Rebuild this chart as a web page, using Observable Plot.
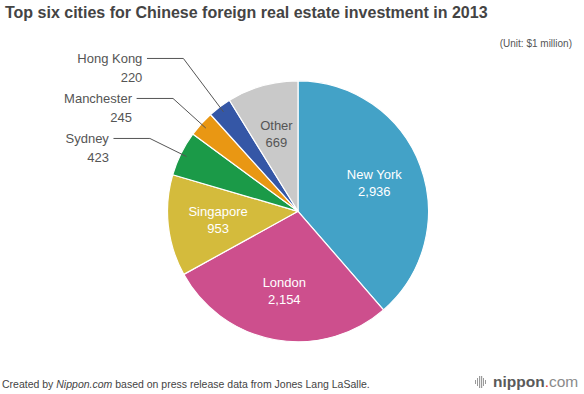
<!DOCTYPE html>
<html><head><meta charset="utf-8">
<script src="https://cdn.jsdelivr.net/npm/d3@7"></script>
<script src="https://cdn.jsdelivr.net/npm/@observablehq/plot@0.6"></script>
<style>
body{margin:0;background:#fff;font-family:"Liberation Sans",Arial,Helvetica,sans-serif;}
#wrap{width:584px;height:394px;position:relative;overflow:hidden}
#head{height:52px;position:relative}
#title{position:absolute;left:5px;top:4px;font-size:16px;font-weight:bold;color:#444;white-space:nowrap}
#unit{position:absolute;right:12px;top:38px;font-size:10px;color:#555;white-space:nowrap}
#chart{height:312px}
#chart svg{display:block}
#foot{height:30px;position:relative}
#cap{position:absolute;left:2px;top:14px;font-size:10.5px;color:#444;white-space:nowrap}
#logo{position:absolute;left:475px;top:9px;white-space:nowrap;font-size:15.5px;display:flex;align-items:center}
#logo .n{font-weight:bold;color:#5a5a5a}
#logo .d{color:#e03a2f}
#logo .c{color:#8a8a8a}
</style>
</head><body>
<div id="wrap">
  <div id="head">
    <div id="title">Top six cities for Chinese foreign real estate investment in 2013</div>
    <div id="unit">(Unit: $1 million)</div>
  </div>
  <div id="chart"></div>
  <div id="foot">
    <div id="cap">Created by <i>Nippon.com</i> based on press release data from Jones Lang LaSalle.</div>
    <div id="logo"><svg width="14" height="12" style="margin-right:4px"><g fill="#9a9a9a"><rect x="0" y="4" width="1" height="4"/><rect x="2" y="2" width="1" height="8"/><rect x="4" y="0" width="1.2" height="12"/><rect x="6" y="0" width="1.2" height="12"/><rect x="8" y="2" width="1" height="8"/><rect x="10" y="4" width="1" height="4"/></g></svg><span class="n">nippon</span><span class="d">.</span><span class="c">com</span></div>
  </div>
</div>
<script>
const cities = ["New York", "London", "Singapore", "Sydney", "Manchester", "Hong Kong", "Other"];
const values = [2936, 2154, 953, 423, 245, 220, 669];
const colors = ["#43a2c7", "#cd4f8d", "#d4bb3c", "#1b9a48", "#e99713", "#3557a6", "#c9c9c9"];
const insideLabels = ["New York", "London", "Singapore", "Other"];
const outsideLabels = ["Sydney", "Manchester", "Hong Kong"];

const data = cities.map((c, i) => ({city: c, value: values[i], color: colors[i]}));
const arcs = d3.pie().sort(null).value(d => d.value)(data);
arcs.forEach(a => { a.mid = (a.startAngle + a.endAngle) / 2; a.city = a.data.city; a.value = a.data.value; });

// pixel geometry of the plot (scale ranges)
const W = 584, H = 312;
const cxPx = 298, cyPx = 159.3, Rpx = 130.5;
const fmt = d3.format(",");

// inside labels
const inner = arcs.filter(a => insideLabels.includes(a.city)).map(a => ({
  city: a.city, value: a.value, x: 0.62 * Math.sin(a.mid), y: 0.62 * Math.cos(a.mid)
}));

// outside labels with leader lines, stacked bottom to top
const gap = 40 / Rpx, hLen = 36 / Rpx;
const outer = arcs.filter(a => outsideLabels.includes(a.city))
  .sort((a, b) => Math.cos(a.mid) - Math.cos(b.mid));
let prev = -Infinity;
const outLabels = outer.map(a => {
  let ly = 1.27 * Math.cos(a.mid);
  if (ly < prev + gap) ly = prev + gap;
  prev = ly;
  const ex = ly * Math.tan(a.mid);
  return {city: a.city, value: a.value, mid: a.mid, ly, ex, hx: ex - hLen};
});
const leaders = outLabels.flatMap(d => [
  {city: d.city, x: 0.96 * Math.sin(d.mid), y: 0.96 * Math.cos(d.mid)},
  {city: d.city, x: d.ex, y: d.ly},
  {city: d.city, x: d.hx, y: d.ly}
]);

function pieSlices(index, scales) {
  const cx = scales.x(0), cy = scales.y(0), r = scales.x(1) - scales.x(0);
  const arc = d3.arc().innerRadius(0).outerRadius(r);
  const g = d3.create("svg:g").attr("transform", `translate(${cx},${cy})`);
  g.selectAll("path").data(arcs).join("path")
    .attr("d", arc)
    .attr("fill", d => d.data.color)
    .attr("stroke", "#fff")
    .attr("stroke-width", 1.2)
    .attr("stroke-linejoin", "round");
  return g.node();
}

const font = "Liberation Sans, Arial, sans-serif";
const plot = Plot.plot({
  width: W, height: H,
  margin: 0,
  style: {fontFamily: font, background: "transparent"},
  x: {domain: [-1, 1], range: [cxPx - Rpx, cxPx + Rpx], axis: null},
  y: {domain: [-1, 1], range: [cyPx + Rpx, cyPx - Rpx], axis: null},
  marks: [
    pieSlices,
    Plot.line(leaders, {x: "x", y: "y", z: "city", stroke: "#555", strokeWidth: 1, curve: "linear"}),
    Plot.text(inner, {filter: d => d.city !== "Other", x: "x", y: "y", text: "city", dy: -8.5, fill: "#fff", fontSize: 13}),
    Plot.text(inner, {filter: d => d.city !== "Other", x: "x", y: "y", text: d => fmt(d.value), dy: 8.5, fill: "#fff", fontSize: 13}),
    Plot.text(inner, {filter: d => d.city === "Other", x: "x", y: "y", text: "city", dy: -8.5, fill: "#555", fontSize: 13}),
    Plot.text(inner, {filter: d => d.city === "Other", x: "x", y: "y", text: d => fmt(d.value), dy: 8.5, fill: "#555", fontSize: 13}),
    Plot.text(outLabels, {x: "hx", y: "ly", text: "city", textAnchor: "end", dx: -5, fill: "#555", fontSize: 13}),
    Plot.text(outLabels, {x: "hx", y: "ly", text: d => fmt(d.value), textAnchor: "end", dx: -5, dy: 19, fill: "#555", fontSize: 13})
  ]
});
document.getElementById("chart").appendChild(plot);
</script>
</body></html>
